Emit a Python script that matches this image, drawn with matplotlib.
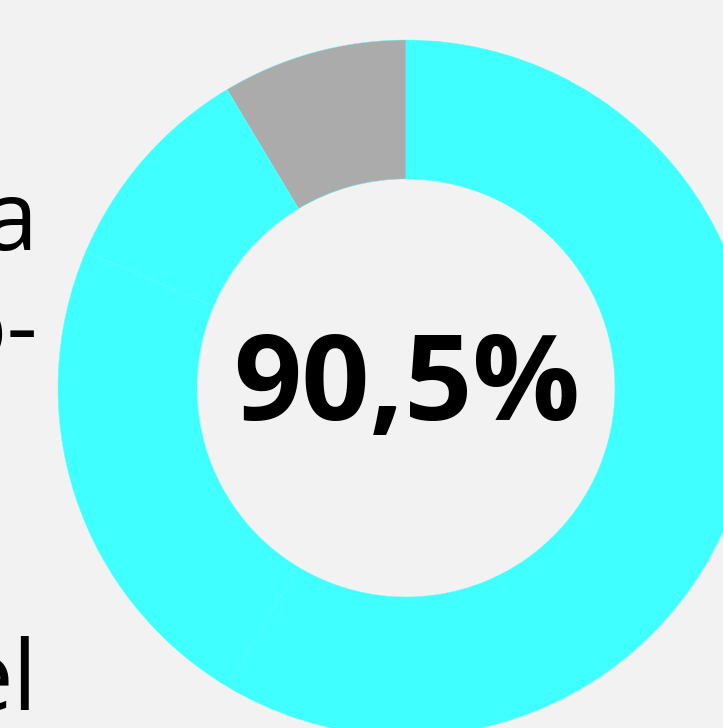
import matplotlib
matplotlib.use("Agg")
import matplotlib.pyplot as plt

# Data
segment_labels = ["Outros", "Parte A", "Parte B", "Parte C"]
segment_values = [8.6, 10.0, 22.8, 58.6]
segment_colors = ["#ababab", "#3fffff", "#3fffff", "#3fffff"]
center_label = "90,5%"
side_texts = ["a", "o-", "el"]

W, H = 723, 728
fig = plt.figure(figsize=(W / 100, H / 100), dpi=100, facecolor="#f2f2f2")
ax = fig.add_axes([0, 0, 1, 1])
ax.set_facecolor("#f2f2f2")

cx, cy = 406, H - 388
R, r = 348, 209
ax.pie(segment_values, colors=segment_colors, startangle=90, counterclock=True,
       center=(cx, cy), radius=R, frame=True,
       wedgeprops=dict(width=R - r, edgecolor="#5cffff", linewidth=0.3))
ax.set_xlim(0, W)
ax.set_ylim(0, H)
ax.set_aspect("equal")
ax.axis("off")

ax.text(cx + 1, H - 420, center_label, ha="center", va="baseline",
        fontsize=86, fontweight="bold", family="Open Sans", color="black")

side_pos = [(38, 250), (38, 360), (38, 710)]
for t, (x, y) in zip(side_texts, side_pos):
    ax.text(x, H - y, t, ha="right", va="baseline", fontsize=70,
            fontweight="medium", family="Open Sans", color="black")

fig.savefig("out.png", dpi=100, facecolor=fig.get_facecolor())
